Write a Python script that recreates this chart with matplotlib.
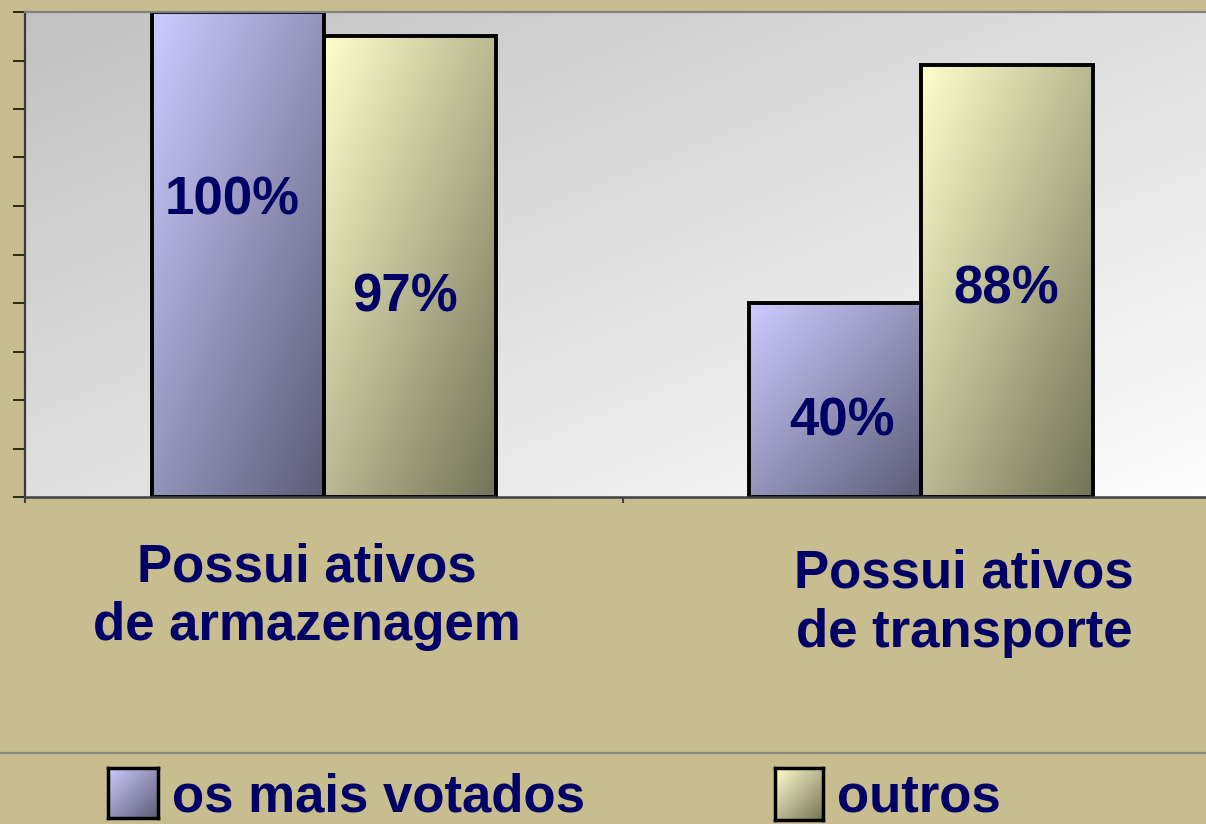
import numpy as np
import matplotlib
matplotlib.use("Agg")
import matplotlib.pyplot as plt
from matplotlib.lines import Line2D

# ---- data ----
categories = ["Possui ativos\nde armazenagem", "Possui ativos\nde transporte"]
series_names = ["os mais votados", "outros"]
mais_votados = [1.00, 0.40]
outros = [0.95, 0.89]
bar_labels_mv = ["100%", "40%"]
bar_labels_out = ["97%", "88%"]

# ---- style ----
BG = "#C7BD8E"
NAVY = "#000066"
FONT = "Liberation Sans"
FS = 38
W, H = 1206, 824

light_blue, dark_blue = np.array([204, 204, 255]) / 255, np.array([92, 92, 120]) / 255
light_yel, dark_yel = np.array([255, 255, 204]) / 255, np.array([115, 115, 88]) / 255


def gradient(c0, c1, n=200, m=200):
    u = np.linspace(0, 1, m)[None, :]
    v = np.linspace(0, 1, n)[:, None]
    t = (u + v) / 2.0
    return c0[None, None, :] * (1 - t[..., None]) + c1[None, None, :] * t[..., None]


fig = plt.figure(figsize=(W / 100, H / 100), dpi=100, facecolor=BG)
ax = fig.add_axes([25 / W, (H - 497) / H, 1195 / W, 485 / H])
ax.set_facecolor("none")
ax.set_xlim(0, 2)
ax.set_ylim(0, 1)

# plot-area gradient background
bg = gradient(np.array([0.76, 0.76, 0.76]), np.array([0.995, 0.995, 0.995]))
ax.imshow(bg, extent=(0, 1, 0, 1), transform=ax.transAxes, aspect="auto",
          origin="upper", zorder=0, interpolation="bilinear")
ax.set_xlim(0, 2)
ax.set_ylim(0, 1)

bw = 0.2876
x = np.arange(len(categories)) + 0.5
bars1 = ax.bar(x - bw / 2, mais_votados, width=bw, facecolor="none",
               edgecolor="black", linewidth=2.8, zorder=3)
bars2 = ax.bar(x + bw / 2, outros, width=bw, facecolor="none",
               edgecolor="black", linewidth=2.8, zorder=3)

for bars, c0, c1 in ((bars1, light_blue, dark_blue), (bars2, light_yel, dark_yel)):
    for b in bars:
        x0, y0 = b.get_x(), b.get_y()
        img = ax.imshow(gradient(c0, c1), extent=(x0, x0 + b.get_width(), y0, y0 + b.get_height()),
                        aspect="auto", origin="upper", zorder=2, interpolation="bilinear")
        img.set_clip_path(b)
ax.set_xlim(0, 2)
ax.set_ylim(0, 1)

# bar value labels (position tweaks within each bar)
label_y_mv = [0.5835, 0.1258]
label_y_out = [0.3835, 0.40]
label_dx_mv = [-0.010, 0.012]
label_dx_out = [-0.008, -0.001]
for b, lab, ly, dx in zip(bars1, bar_labels_mv, label_y_mv, label_dx_mv):
    ax.text(b.get_x() + b.get_width() / 2 + dx, ly, lab, ha="center", va="baseline",
            fontsize=FS, fontweight="bold", color=NAVY, family=FONT, zorder=4)
for b, lab, ly, dx in zip(bars2, bar_labels_out, label_y_out, label_dx_out):
    ax.text(b.get_x() + b.get_width() / 2 + dx, ly, lab, ha="center", va="baseline",
            fontsize=FS, fontweight="bold", color=NAVY, family=FONT, zorder=4)

# axes styling
ax.set_yticks(np.linspace(0, 1, 11))
ax.set_yticklabels([])
ax.set_xticks([0, 1, 2])
ax.set_xticklabels([])
ax.tick_params(axis="y", direction="out", length=9, width=1.1, color="black")
ax.tick_params(axis="x", direction="out", length=4.5, width=1.5, color="#404040")
ax.spines["left"].set_color("#3a3a3a")
ax.spines["left"].set_linewidth(1.6)
ax.spines["bottom"].set_color("#404040")
ax.spines["bottom"].set_linewidth(1.8)
ax.spines["top"].set_color("#808080")
ax.spines["top"].set_linewidth(1.6)
ax.spines["right"].set_visible(False)
for s in ax.spines.values():
    s.set_zorder(5)

# category labels
cat_pos = [(307, 582, 640), (964, 587, 647)]
for cat, (cx, b1, b2) in zip(categories, cat_pos):
    l1, l2 = cat.split("\n")
    fig.text(cx / W, (H - b1) / H, l1, ha="center", va="baseline", fontsize=FS,
             fontweight="bold", color=NAVY, family=FONT)
    fig.text(cx / W, (H - b2) / H, l2, ha="center", va="baseline", fontsize=FS,
             fontweight="bold", color=NAVY, family=FONT)

# separator line
fig.add_artist(Line2D([0, 1], [(H - 753) / H] * 2, transform=fig.transFigure,
                      color="#8c8c84", linewidth=1.6))

# legend
leg = [(108, 768, 50, 50, light_blue, dark_blue, 172),
       (775, 768, 48, 52, light_yel, dark_yel, 837)]
for name, (lx, ly, lw, lh, c0, c1, tx) in zip(series_names, leg):
    lax = fig.add_axes([lx / W, (H - ly - lh) / H, lw / W, lh / H])
    lax.imshow(gradient(c0, c1), extent=(0, 1, 0, 1), aspect="auto", origin="upper",
               interpolation="bilinear")
    lax.set_xticks([])
    lax.set_yticks([])
    for s in lax.spines.values():
        s.set_linewidth(2.5)
        s.set_color("black")
    fig.text(tx / W, (H - 812) / H, name, ha="left", va="baseline", fontsize=FS,
             fontweight="bold", color=NAVY, family=FONT)

fig.savefig("out.png", dpi=100, facecolor=BG)
